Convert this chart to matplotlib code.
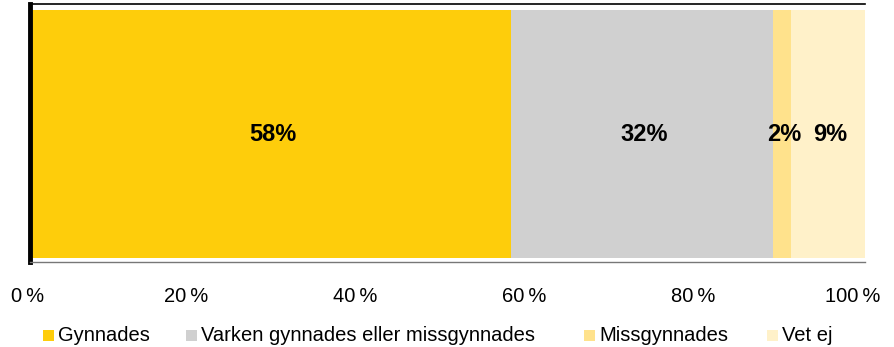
import matplotlib.pyplot as plt
from matplotlib.patches import Rectangle
from matplotlib.transforms import ScaledTranslation

plt.rcParams['font.family'] = ['Liberation Sans', 'DejaVu Sans']

# data
categories = ['Gynnades', 'Varken gynnades eller missgynnades', 'Missgynnades', 'Vet ej']
values = [57.6, 31.4, 2.1, 8.9]
labels = ['58%', '32%', '2%', '9%']
colors = ['#fecd0b', '#d0d0d0', '#ffe28c', '#fff1c9']
ticks = [0, 20, 40, 60, 80, 100]
tick_labels = ['0\u2009%', '20\u2009%', '40\u2009%', '60\u2009%', '80\u2009%', '100\u2009%']

W, H = 894, 347
fig = plt.figure(figsize=(W / 100, H / 100), dpi=100)
ax = fig.add_axes([30 / W, 1 - 262 / H, 835 / W, 258 / H])

left = 0
for v, lab, c in zip(values, labels, colors):
    ax.barh(0, v, left=left, height=1, color=c, linewidth=0)
    ax.text(left + v / 2 + 0.3, 0, lab, ha='center', va='center',
            fontsize=17, fontweight='bold', color='black')
    left += v

ax.set_xlim(0, 100)
ax.set_ylim(-0.5161, 0.5242)
ax.set_yticks([])
ax.set_xticks(ticks)
ax.set_xticklabels(tick_labels, fontsize=14.5)
ax.tick_params(axis='x', length=0, pad=18)

# the tick labels sit a little left of the ticks in the original
offsets = [-2.5, -10.5, -8.5, -7, -5, -12.7]
for lbl, dx in zip(ax.get_xticklabels(), offsets):
    lbl.set_transform(lbl.get_transform() + ScaledTranslation(dx / 100, 0, fig.dpi_scale_trans))

ax.spines['right'].set_visible(False)
ax.spines['top'].set_color('black')
ax.spines['top'].set_linewidth(1.2)
ax.spines['bottom'].set_color('#777777')
ax.spines['bottom'].set_linewidth(1)
ax.spines['left'].set_color('black')
ax.spines['left'].set_linewidth(3.5)

# legend drawn by hand
sq_x = [43, 186, 584, 767]
for x, name, c in zip(sq_x, categories, colors):
    fig.patches.append(Rectangle((x / W, 1 - 341 / H), 11 / W, 11 / H,
                                 transform=fig.transFigure, color=c, linewidth=0))
    fig.text((x + 15) / W, 1 - 341 / H, name, fontsize=14.5, va='baseline', ha='left')

fig.savefig('out.png', dpi=100)
